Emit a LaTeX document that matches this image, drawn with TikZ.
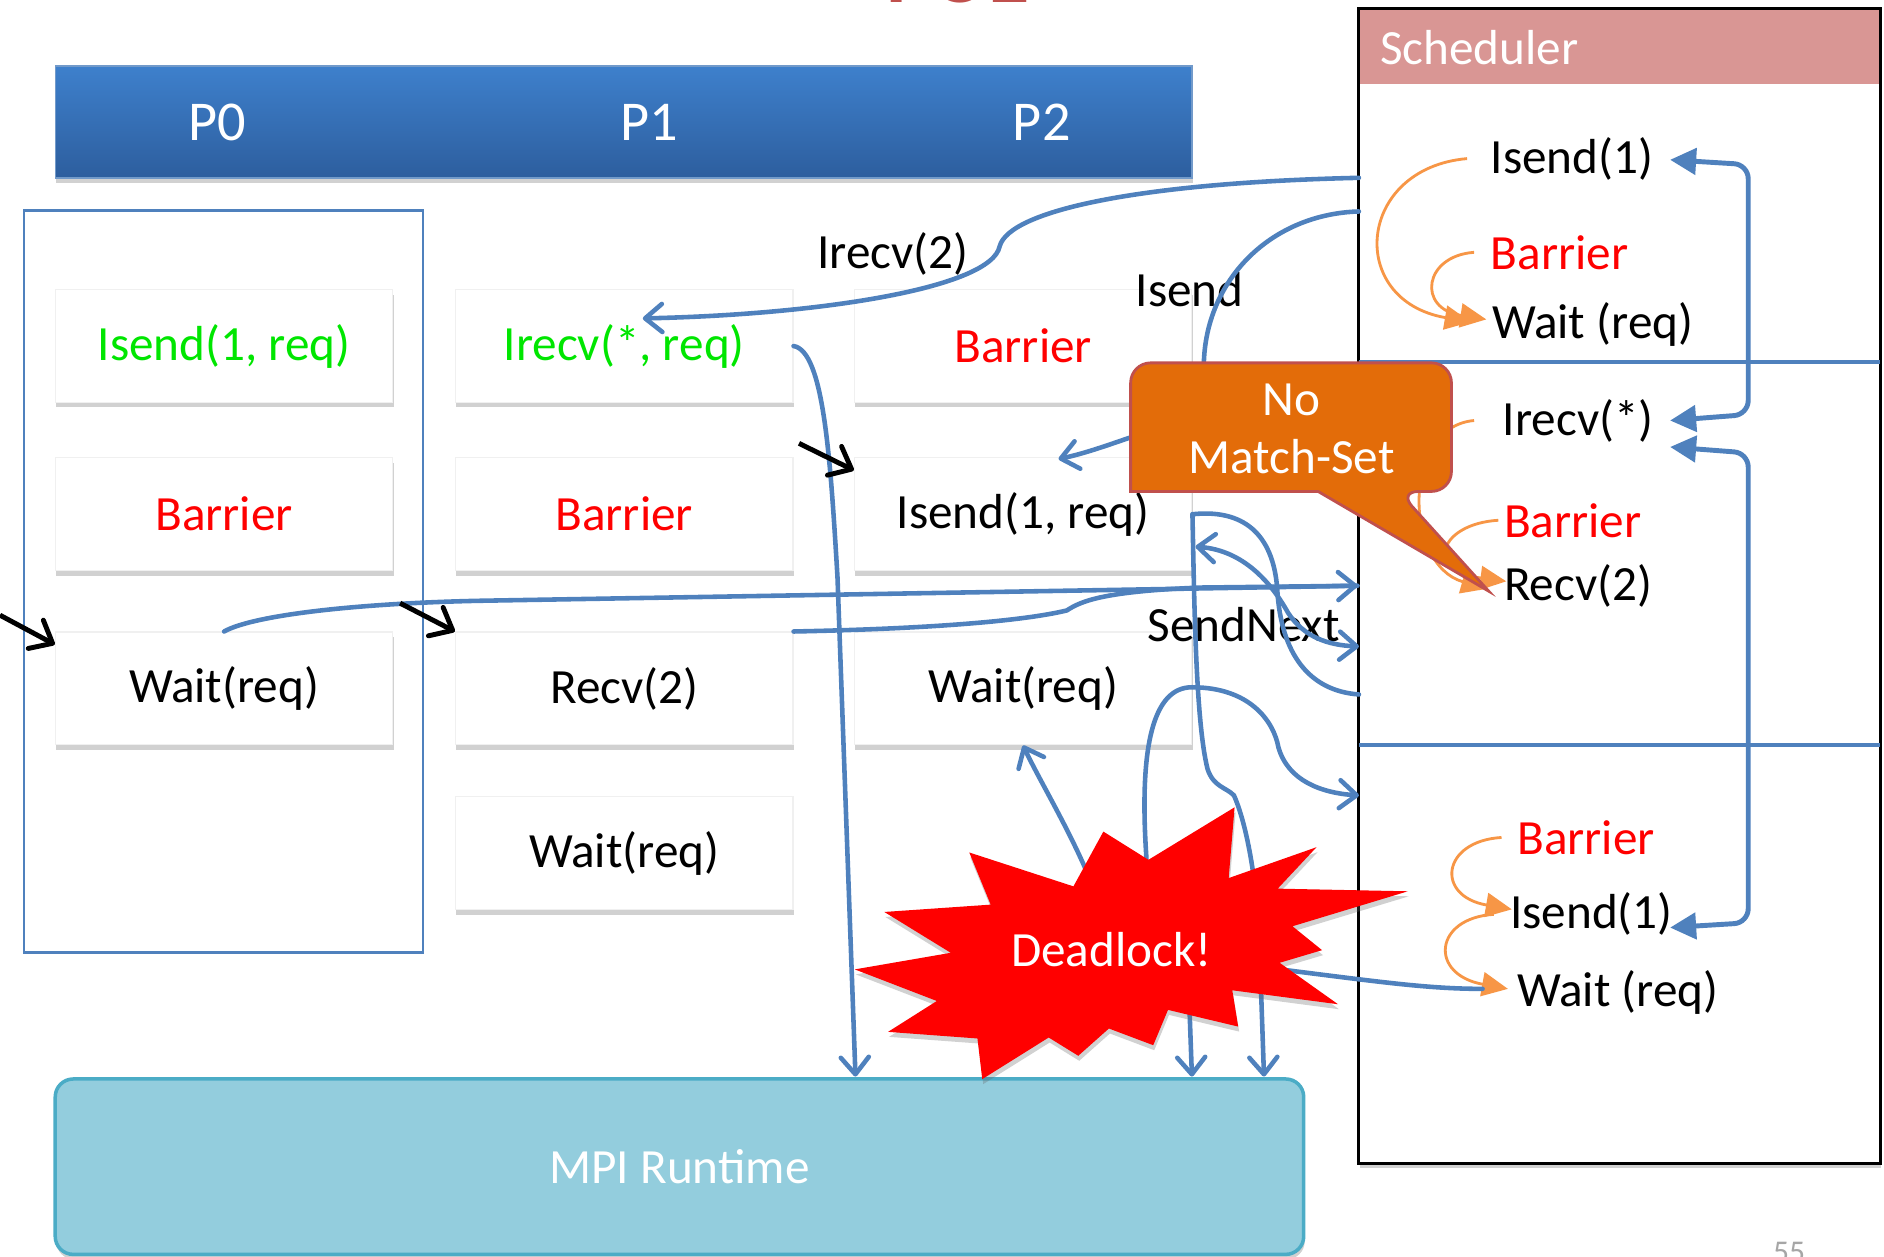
\documentclass[tikz,border=0pt]{standalone}
\usepackage{fontspec}
\setmainfont{Carlito}
\usetikzlibrary{arrows.meta,shadows}

\definecolor{hdrtop}{HTML}{3E80CC}
\definecolor{hdrbot}{HTML}{2D5E9E}
\definecolor{linkblue}{HTML}{4F81BD}
\definecolor{arcorange}{HTML}{F79646}
\definecolor{calloutfill}{HTML}{E36C09}
\definecolor{calloutedge}{HTML}{C0504D}
\definecolor{schedpink}{HTML}{D99694}
\definecolor{rtfill}{HTML}{93CDDD}
\definecolor{rtedge}{HTML}{4BACC6}
\definecolor{opgreen}{HTML}{00E600}
\definecolor{opred}{HTML}{FF0000}
\definecolor{titlered}{HTML}{C0504D}

\newcommand\opsize{\fontsize{14}{16.5}\selectfont}
\newcommand\hdrsize{\fontsize{16}{19}\selectfont}
\newcommand\titlesize{\fontsize{24}{28}\selectfont}
\newcommand\pagenosize{\fontsize{9}{11}\selectfont}

\tikzset{
  softshadow/.style={drop shadow={shadow xshift=0.1mm, shadow yshift=-0.5mm, fill=black!60, opacity=0.3}},
  hdrbar/.style={draw=linkblue!80!white, line width=0.4pt, top color=hdrtop, bottom color=hdrbot,
    minimum width=113.66mm, minimum height=11.17mm, inner sep=0pt, softshadow},
  hdrlabel/.style={text=white, font=\hdrsize},
  p0frame/.style={draw=linkblue, line width=0.8pt},
  opbox/.style={fill=white, draw=black!6, line width=0.3pt, minimum width=33.76mm,
    minimum height=11.29mm, inner sep=0pt, softshadow},
  schedbox/.style={draw=black, line width=0.8pt, fill=white, minimum width=52.15mm,
    minimum height=115.47mm, inner sep=0pt, softshadow},
  schedop/.style={anchor=west, inner sep=0.5mm},
  sepline/.style={draw=linkblue, line width=1.2pt},
  orderarc/.style={draw=arcorange, line width=0.8pt, -{Triangle[length=2.6mm,width=2.4mm]}},
  queuelink/.style={draw=linkblue, line width=1.4pt, rounded corners=4pt,
    {Triangle[length=2.6mm,width=2.6mm]}-{Triangle[length=2.6mm,width=2.6mm]}},
  link/.style={draw=linkblue, line width=1.3pt, line cap=round},
  pcarrow/.style={draw=black, line width=1.4pt, -{Straight Barb[length=1.9mm,width=3.2mm,round]}},
  runtime/.style={fill=rtfill, draw=rtedge, line width=1pt, rounded corners=1.8mm,
    minimum width=124.84mm, minimum height=17.54mm, text=white, softshadow},
  callout/.style={fill=calloutfill, draw=calloutedge, line width=0.8pt},
  boomfill/.style={fill=red, softshadow},
}

\begin{document}
\begin{tikzpicture}[x=0.12015mm, y=-0.12015mm, font=\opsize,
    >={Straight Barb[length=1.7mm,width=2.8mm,round]}]
\useasboundingbox (0,0) rectangle (1568,1046);

% slide title, cut by the top edge
\node[anchor=base west, inner sep=0pt, text=titlered, font=\titlesize\bfseries] (title) at (737,2.5) {POE};

% process header
\node[hdrbar] (hdr) at (519,101.5) {};
\node[hdrlabel] (lp0) at (181,102) {P0};
\node[hdrlabel] (lp1) at (540,102) {P1};
\node[hdrlabel] (lp2) at (867,102) {P2};

\draw[p0frame] (20,175) rectangle (352,793);

% program of each process
\node[opbox, text=opgreen] (p0a) at (186.5,288) {Isend(1, req)};
\node[opbox, text=opred] (p0b) at (186.5,428) {Barrier};
\node[opbox] (p0c) at (186.5,573) {Wait(req)};
\node[opbox, text=opgreen] (p1a) at (519.5,288) {Irecv(*, req)};
\node[opbox, text=opred] (p1b) at (519.5,428) {Barrier};
\node[opbox] (p1c) at (519.5,573) {Recv(2)};
\node[opbox] (p1d) at (519.5,710) {Wait(req)};
\node[opbox, text=opred] (p2a) at (851.5,288) {Barrier};
\node[opbox] (p2b) at (851.5,428) {Isend(1, req)};
\node[opbox] (p2c) at (851.5,573) {Wait(req)};

\node[runtime] (mpi) at (565.5,971) {MPI Runtime};

% scheduler
\node[schedbox] (sched) at (1348,487.5) {};
\fill[schedpink] (1132.2,8.2) rectangle (1563.8,70);
\node[anchor=west, inner sep=0pt, text=white] (schedname) at (1148,39.5) {Scheduler};
\draw[sepline] (1131,301) -- (1565,301);
\draw[sepline] (1131,620) -- (1565,620);

\node[schedop] (sIsendA) at (1236,132) {Isend(1)};
\node[schedop, text=opred] (sBarA) at (1236,210) {Barrier};
\node[schedop] (sWaitA) at (1237,270) {Wait (req)};
\node[schedop] (sIrecv) at (1246,350) {Irecv(*)};
\node[schedop, text=opred] (sBarB) at (1247,433) {Barrier};
\node[schedop] (sRecv) at (1247,488) {Recv(2)};
\node[schedop, text=opred] (sBarC) at (1258,697) {Barrier};
\node[schedop] (sIsendB) at (1252,761) {Isend(1)};
\node[schedop] (sWaitB) at (1258,826) {Wait (req)};

% completes-before order
\draw[orderarc] ([xshift=-1.8mm]sIsendA.west) .. controls +(-92,8) and +(-104,-18) .. ([xshift=-1.56mm,yshift=.24mm]sWaitA.west);
\draw[orderarc] ([xshift=-1.1mm]sBarA.west) .. controls +(-42,3) and +(-58,-9) .. ([yshift=.5mm]sWaitA.west);
\draw[orderarc] ([xshift=-2.3mm]sIrecv.west) .. controls +(-60,5) and +(-70,-20) .. ([xshift=-1.1mm,yshift=-.24mm]sRecv.west);
\draw[orderarc] (sBarB.west) .. controls +(-49,3) and +(-69,-9) .. ([xshift=.8mm,yshift=.5mm]sRecv.west);
\draw[orderarc] ([xshift=-1mm]sBarC.west) .. controls +(-50,3) and +(-64,-11) .. ([xshift=.75mm,yshift=.5mm]sIsendB.west);
\draw[orderarc] ([xshift=-1.05mm]sIsendB.west) .. controls +(-50,3) and +(-66,-12) .. ([xshift=-.36mm,yshift=.36mm]sWaitB.west);

% match candidates
\coordinate (qIsendA) at (1390,133);
\coordinate (qIrecvA) at (1390,350);
\coordinate (qIrecvB) at (1390,372);
\coordinate (qIsendB) at (1390,772);
\draw[queuelink] (qIsendA) -- (1455,137) -- (1455,345) -- (qIrecvA);
\draw[queuelink] (qIrecvB) -- (1455,377) -- (1455,768) -- (qIsendB);

% ends of the message links
\coordinate (schIrecv) at (1131,148);
\coordinate (schIsend) at (1131,176);
\coordinate (schNext) at (1131,538);
\coordinate (schTail) at (1131,578);
\coordinate (schLow) at (1131,662);
\coordinate (p1aHit) at (535,265);
\coordinate (p2bHit) at (881,382);
\coordinate (p2bBack) at (995,455);
\coordinate (mpiA) at (712,896);
\coordinate (mpiB) at (992,896);
\coordinate (mpiC) at (1052,896);
\coordinate (boom) at (925,790);
\coordinate (pcA) at (0,512);
\coordinate (pcB) at (333,502);
\coordinate (pcC) at (665,369);

\node (lblIrecv) at (743,211) {Irecv(2)};
\node (lblIsend) at (990,241) {Isend};
\node (lblNext) at (1035,520) {SendNext};

\draw[link,->] (schIrecv) .. controls (950,152) and (840,175) .. (832,205)
  .. controls (825,240) and (680,262) .. (p1aHit);
\draw[link,->] (schIsend) .. controls (1060,178) and (1005,230) .. (1002,300)
  .. controls (999,340) and (962,356) .. (941,364) .. controls (915,373) and (900,378) .. (p2bHit);
\draw[link,->] (p1a.east) .. controls +(25,4) and +(-6,-100) .. (697,480) -- (mpiA);
\draw[link,->] (p0c.north) .. controls +(25,-14) and +(-100,2) .. (400,500) -- (sched.west);
\draw[link] (p1c.north east) .. controls +(150,-3) and +(-20,5) .. (888,508)
  .. controls +(12,-8) and +(-80,3) .. (1000,489) -- (sched.west);
\draw[link] (p2b.east) .. controls (1040,423) and (1060,450) .. (1063,490)
  .. controls (1066,545) and (1090,575) .. (schTail);
\draw[link,->] (p2b.east) .. controls (994,500) and (995,600) .. (1005,640)
  .. controls (1010,655) and (1020,655) .. (1027,662)
  .. controls (1035,680) and (1045,720) .. (1048,780) -- (mpiC);
\draw[link,<->] (mpiB) -- (990,840) .. controls (975,790) and (955,760) .. (954,712)
  .. controls (948,620) and (960,572) .. (992,572)
  .. controls (1040,572) and (1060,600) .. (1064,622)
  .. controls (1072,650) and (1100,660) .. (schLow);
\draw[link,<->] (p2bBack) .. controls (1035,458) and (1058,485) .. (1072,510)
  .. controls (1085,530) and (1105,537) .. (schNext);
\draw[link] (boom) .. controls (1120,812) and (1170,823) .. ([xshift=-2.9mm,yshift=.36mm]sWaitB.west);
\draw[link,->] (boom) .. controls (915,730) and (870,660) .. (p2c.south);

% current position of each process
\draw[pcarrow] (pcA) -- ([yshift=-1.3mm]p0c.north west);
\draw[pcarrow] (pcB) -- (p1c.north west);
\draw[pcarrow] (pcC) -- ([yshift=-1.3mm]p2b.north west);

% callout
\draw[callout] (1239,492) -- (1097,409) -- (941,409) [rounded corners=2mm] -- (941,302)
  -- (1208,302) -- (1208,409) -- (1164,409) [sharp corners] -- cycle;
\node[text=white, align=center] (nomatch) at (1075,357) {No\\Match-Set};

% deadlock burst
\fill[boomfill] (806.7,709.5) -- (893.4,737.7) -- (918.3,692.1) -- (955.8,715.6)
  -- (1027.5,671.9) -- (1022.6,730.8) -- (1095.7,705.1) -- (1063.4,739.6)
  -- (1171.7,741.8) -- (1075.7,770.9) -- (1100.3,790.8) -- (1065,801.3)
  -- (1113.6,835.8) -- (1025.6,824.2) -- (1030.5,854.4) -- (972.1,840.5)
  -- (959.8,869.9) -- (922.9,856) -- (897.4,878.7) -- (872.8,863.5)
  -- (817.5,898.1) -- (813.5,864.3) -- (739.1,858.8) -- (779.7,833.1)
  -- (711.4,806.8) -- (791.3,793) -- (736,759) -- (824.5,752.9) -- cycle;
\node[text=white] (boomlabel) at (boom) {Deadlock!};

\node[anchor=base, text=black!35, font=\pagenosize] (pageno) at (1489,1051) {55};
\end{tikzpicture}
\end{document}
